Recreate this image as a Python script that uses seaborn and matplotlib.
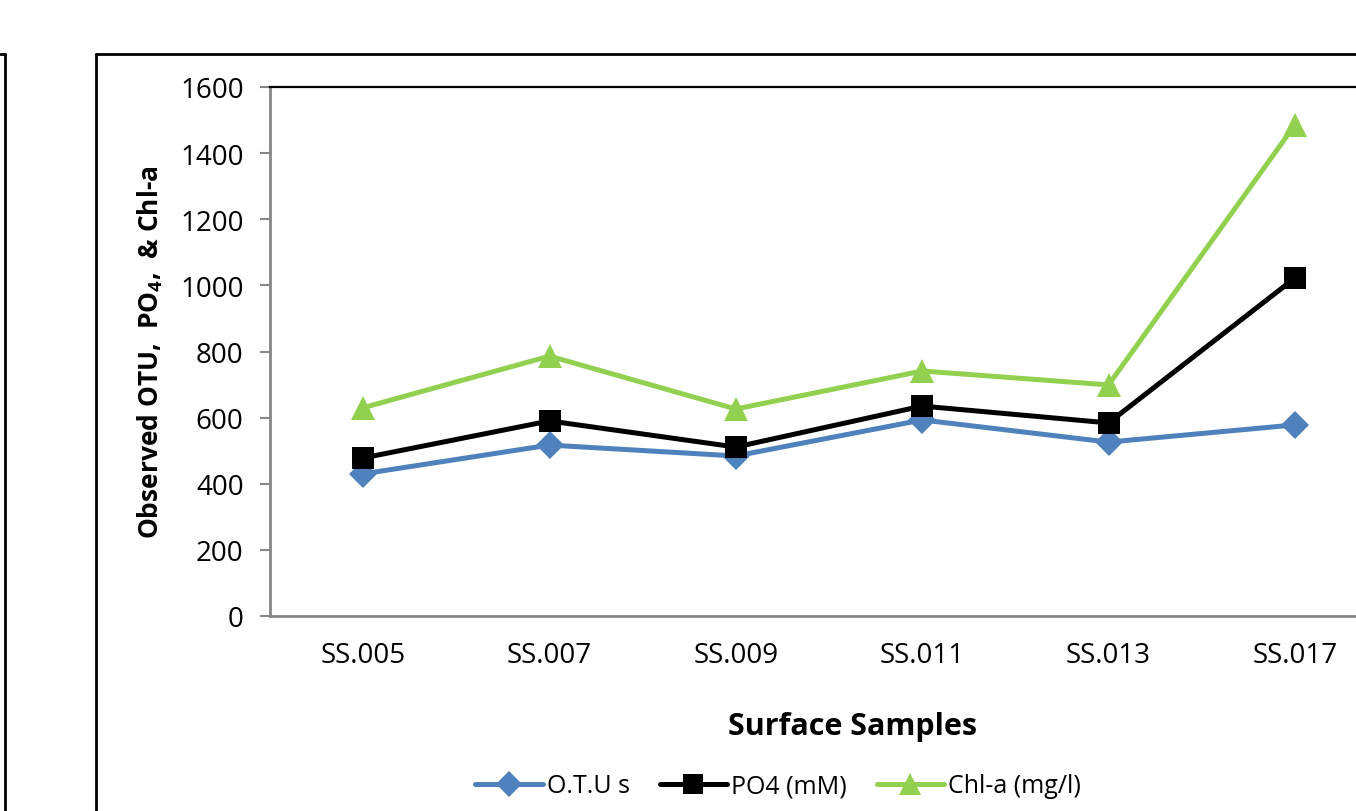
import matplotlib
matplotlib.use("Agg")
import matplotlib.pyplot as plt
from matplotlib.lines import Line2D
import seaborn as sns
import pandas as pd

# values
samples = ["SS.005", "SS.007", "SS.009", "SS.011", "SS.013", "SS.017"]
otu = [430, 517, 484, 593, 526, 578]
po4 = [478, 590, 511, 635, 584, 1022]
chla = [630, 786, 626, 741, 699, 1485]
series_names = ["O.T.U s", "PO4 (mM)", "Chl-a (mg/l)"]
y_ticks = [0, 200, 400, 600, 800, 1000, 1200, 1400, 1600]

df = pd.DataFrame({
    "sample": samples * 3,
    "value": otu + po4 + chla,
    "series": [series_names[0]] * 6 + [series_names[1]] * 6 + [series_names[2]] * 6,
})

sns.set_style("white")
plt.rcParams["font.family"] = ["Open Sans", "DejaVu Sans"]
plt.rcParams["text.color"] = "black"
plt.rcParams["axes.labelcolor"] = "black"
plt.rcParams["xtick.color"] = "black"
plt.rcParams["ytick.color"] = "black"
plt.rcParams["mathtext.fontset"] = "custom"
plt.rcParams["mathtext.it"] = "Open Sans:italic:bold"
plt.rcParams["mathtext.rm"] = "Open Sans:bold"
plt.rcParams["mathtext.bf"] = "Open Sans:bold"

W, H = 1356, 812
fig = plt.figure(figsize=(W / 100, H / 100), dpi=100, facecolor="white")
# plot area runs past the right edge of the picture (cropped chart)
left, right, top, bottom = 270, 1388, 88, 617
ax = fig.add_axes([left / W, 1 - bottom / H, (right - left) / W, (bottom - top) / H])

colors = {"O.T.U s": "#4f81bd", "PO4 (mM)": "#000000", "Chl-a (mg/l)": "#92d050"}
markers = {"O.T.U s": "D", "PO4 (mM)": "s", "Chl-a (mg/l)": "^"}
msize = {"O.T.U s": 14, "PO4 (mM)": 16, "Chl-a (mg/l)": 17}

for name in series_names:
    sub = df[df["series"] == name]
    sns.lineplot(
        data=sub, x="sample", y="value", ax=ax, sort=False,
        color=colors[name], marker=markers[name], markersize=msize[name],
        markeredgewidth=0, linewidth=3.6, label=name, legend=False)

ax.set_xlim(-0.5, 5.5)
ax.set_ylim(0, 1600)
ax.set_yticks(y_ticks)
ax.set_yticklabels([str(t) for t in y_ticks])
ax.tick_params(axis="y", length=7, width=1.5, color="#868686", pad=12,
               labelsize=20, left=True, labelcolor="black")
ax.tick_params(axis="x", length=0, pad=18, labelsize=20, labelcolor="black")

for s in ["left", "bottom"]:
    ax.spines[s].set_color("#868686")
    ax.spines[s].set_linewidth(2)
ax.spines["top"].set_color("black")
ax.spines["top"].set_linewidth(1.6)
ax.spines["right"].set_visible(False)

ax.set_xlabel("Surface Samples", fontsize=22, fontweight="bold")
ax.set_ylabel(r"Observed OTU,  PO$_{\mathit{4}}$,  & Chl-a", fontsize=19,
              fontweight="bold")
ax.xaxis.set_label_coords((852 - left) / (right - left), -(727 - bottom) / (bottom - top))
ax.yaxis.set_label_coords(-(left - 150) / (right - left), 0.5)
ax.xaxis.label.set_va("center")
ax.yaxis.label.set_va("center")

handles = [Line2D([], [], color=colors[n], marker=markers[n], markersize=msize[n] - 1,
                  markeredgewidth=0, linewidth=3.6) for n in series_names]
fig.legend(handles, series_names, loc="center", bbox_to_anchor=(778 / W, 1 - 787 / H),
           ncol=3, frameon=False, fontsize=18, handlelength=2.7, handletextpad=0.15,
           columnspacing=1.2)

# chart frames around the plot
lw = 2
fig.add_artist(Line2D([96 / W, 96 / W], [0, 1 - 55 / H], color="black", lw=lw,
                      transform=fig.transFigure))
fig.add_artist(Line2D([96 / W, 1], [1 - 55 / H, 1 - 55 / H], color="black", lw=lw,
                      transform=fig.transFigure))
fig.add_artist(Line2D([5 / W, 5 / W], [0, 1 - 55 / H], color="black", lw=lw,
                      transform=fig.transFigure))
fig.add_artist(Line2D([0, 5 / W], [1 - 55 / H, 1 - 55 / H], color="black", lw=lw,
                      transform=fig.transFigure))

fig.savefig("out.png", dpi=100, facecolor="white")
